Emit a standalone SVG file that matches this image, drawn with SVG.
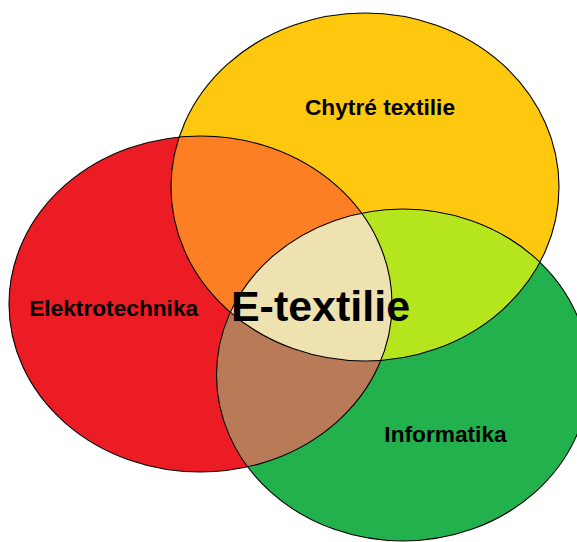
<svg xmlns="http://www.w3.org/2000/svg" width="577" height="542" viewBox="0 0 577 542">
<style>
.outline{fill:none;stroke:#000;stroke-width:1.1}
.lbl{font-family:"Liberation Sans",Arial,sans-serif;font-weight:bold;fill:#000;text-anchor:middle}
</style>
<defs>
<ellipse id="eY" cx="365" cy="187" rx="194" ry="174"/>
<ellipse id="eR" cx="200.5" cy="304" rx="191.5" ry="168"/>
<ellipse id="eG" cx="403" cy="375" rx="186.5" ry="166"/>
<clipPath id="cY"><use href="#eY"/></clipPath>
<clipPath id="cR"><use href="#eR"/></clipPath>
<clipPath id="cG"><use href="#eG"/></clipPath>
</defs>
<rect width="577" height="542" fill="#fff"/>
<g id="fills">
<use href="#eY" fill="#FEC80F"/>
<use href="#eR" fill="#EC1C24"/>
<use href="#eG" fill="#22B14C"/>
<g clip-path="url(#cY)"><use href="#eR" fill="#FD7F23"/></g>
<g clip-path="url(#cY)"><use href="#eG" fill="#B5E61D"/></g>
<g clip-path="url(#cR)"><use href="#eG" fill="#B97A57"/></g>
<g clip-path="url(#cY)"><g clip-path="url(#cR)"><use href="#eG" fill="#EEE2B0"/></g></g>
</g>
<g id="chytre-textilie">
<use href="#eY" class="outline"/>
<text class="lbl" x="380" y="115" font-size="22.7">Chytré textilie</text>
</g>
<g id="elektrotechnika">
<use href="#eR" class="outline"/>
<text class="lbl" x="113.7" y="315.7" font-size="22.7">Elektrotechnika</text>
</g>
<g id="informatika">
<use href="#eG" class="outline"/>
<text class="lbl" x="445.5" y="441.7" font-size="22.7">Informatika</text>
</g>
<g id="e-textilie">
<text class="lbl" x="320.5" y="320.7" font-size="43">E-textilie</text>
</g>
<g id="connectors"/>
</svg>
